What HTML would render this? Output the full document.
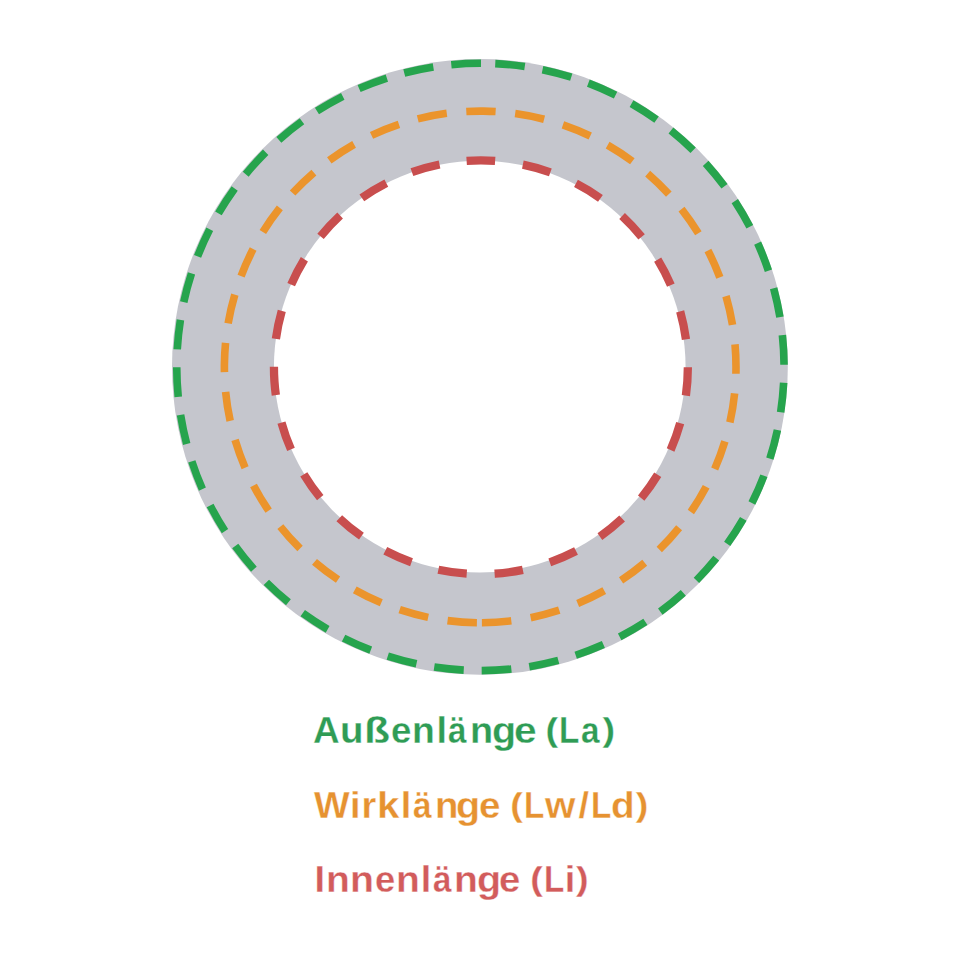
<!DOCTYPE html>
<html><head><meta charset="utf-8"><style>
html,body{margin:0;padding:0;background:#fff;width:960px;height:960px;overflow:hidden}
svg{position:absolute;left:0;top:0}
.ln{position:absolute;left:0;width:960px;height:40px;font-family:"Liberation Sans",sans-serif;font-weight:bold;font-size:37.8px;line-height:1;-webkit-text-stroke:0.3px #fff}
.ln span{position:absolute;top:0;white-space:nowrap;transform-origin:0 13.8px}
</style></head><body>
<svg width="960" height="960" viewBox="0 0 960 960">
<circle cx="479.9" cy="366.9" r="307.9" fill="#c5c6cd"/>
<circle cx="479.75" cy="366.6" r="205.8" fill="#fff"/>
<circle cx="480.4" cy="366.95" r="303.65" fill="none" stroke="#26a44d" stroke-width="7.6" stroke-dasharray="29.7 18.070" transform="rotate(-87.197 480.4 366.95)"/>
<circle cx="480.2" cy="366.9" r="255.8" fill="none" stroke="#eb942c" stroke-width="7.6" stroke-dasharray="29.5 19.626" transform="rotate(90.739 480.2 366.9)"/>
<circle cx="480.9" cy="367.25" r="206.95" fill="none" stroke="#c84e4e" stroke-width="8.3" stroke-dasharray="28.6 27.935" transform="rotate(-93.959 480.9 367.25)"/>
</svg>
<div class="ln" style="top:711.70px;color:#2f9c55"><span style="left:313.38px;transform:scale(0.976,1.0)">A</span><span style="left:340.35px;transform:scale(1.019,1.0)">u</span><span style="left:364.00px;transform:scale(1.126,1.0)">ß</span><span style="left:390.70px;transform:scale(0.969,1.0)">e</span><span style="left:412.09px;transform:scale(0.986,1.0)">n</span><span style="left:436.45px">l</span><span style="left:448.05px;transform:scale(0.880,1.0)">ä</span><span style="left:470.04px">n</span><span style="left:491.93px;transform:scale(1.043,1.0)">g</span><span style="left:513.62px;transform:scale(1.076,1.0)">e</span><span style="left:545.48px;transform:scale(1.000,0.896)">(</span><span style="left:559.42px;transform:scale(0.880,1.0)">L</span><span style="left:580.86px;transform:scale(0.880,1.0)">a</span><span style="left:602.40px;transform:scale(1.000,0.896)">)</span></div>
<div class="ln" style="top:786.50px;color:#e69231"><span style="left:313.95px">W</span><span style="left:349.95px">i</span><span style="left:361.62px">r</span><span style="left:377.07px;transform:scale(1.067,1.0)">k</span><span style="left:400.77px">l</span><span style="left:413.41px;transform:scale(0.885,1.0)">ä</span><span style="left:434.71px;transform:scale(1.014,1.0)">n</span><span style="left:456.47px;transform:scale(1.045,1.0)">g</span><span style="left:479.02px;transform:scale(1.020,1.0)">e</span><span style="left:510.17px;transform:scale(1.000,0.896)">(</span><span style="left:523.82px;transform:scale(0.880,1.0)">L</span><span style="left:544.74px;transform:scale(1.034,1.0)">w</span><span style="left:578.45px">/</span><span style="left:590.70px;transform:scale(0.880,1.0)">L</span><span style="left:611.11px;transform:scale(1.024,1.0)">d</span><span style="left:635.85px;transform:scale(1.000,0.896)">)</span></div>
<div class="ln" style="top:860.70px;color:#d25c5c"><span style="left:314.55px">I</span><span style="left:326.36px;transform:scale(1.031,1.0)">n</span><span style="left:350.45px;transform:scale(1.037,1.0)">n</span><span style="left:375.02px;transform:scale(0.961,1.0)">e</span><span style="left:396.36px;transform:scale(1.031,1.0)">n</span><span style="left:420.77px">l</span><span style="left:432.82px;transform:scale(0.880,1.0)">ä</span><span style="left:453.86px;transform:scale(1.031,1.0)">n</span><span style="left:476.93px;transform:scale(1.043,1.0)">g</span><span style="left:499.48px;transform:scale(1.011,1.0)">e</span><span style="left:530.17px;transform:scale(1.000,0.896)">(</span><span style="left:544.02px;transform:scale(0.880,1.0)">L</span><span style="left:564.75px">i</span><span style="left:576.00px;transform:scale(1.000,0.896)">)</span></div>
</body></html>
